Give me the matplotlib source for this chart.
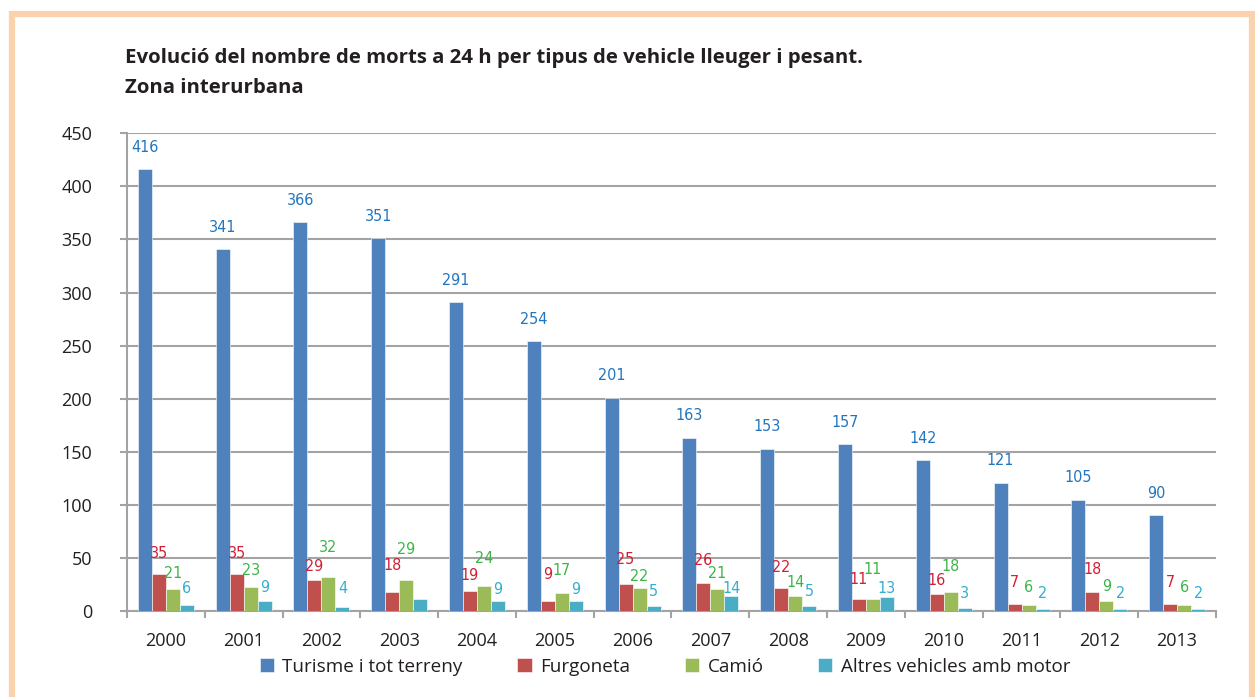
import matplotlib

matplotlib.use("Agg")
import matplotlib.pyplot as plt
from matplotlib.patches import Rectangle
import numpy as np

# ---- data -------------------------------------------------------------------
years = ["2000", "2001", "2002", "2003", "2004", "2005", "2006",
         "2007", "2008", "2009", "2010", "2011", "2012", "2013"]
turisme = [416, 341, 366, 351, 291, 254, 201, 163, 153, 157, 142, 121, 105, 90]
furgoneta = [35, 35, 29, 18, 19, 9, 25, 26, 22, 11, 16, 7, 18, 7]
camio = [21, 23, 32, 29, 24, 17, 22, 21, 14, 11, 18, 6, 9, 6]
altres = [6, 9, 4, 11, 9, 9, 5, 14, 5, 13, 3, 2, 2, 2]
altres_shown = [True, True, True, False, True, True, True,
                True, True, True, True, True, True, True]
series_names = ["Turisme i tot terreny", "Furgoneta", "Camió",
                "Altres vehicles amb motor"]

title = ("Evolució del nombre de morts a 24 h per tipus de vehicle lleuger i pesant.\n"
         "Zona interurbana")

# ---- style --------------------------------------------------------------------
BAR_COLORS = ["#4F81BD", "#C0504D", "#9BBB59", "#4BACC6"]
LABEL_COLORS = ["#2275BF", "#D21F34", "#3DB54A", "#35AECF"]
GRID = "#A3A3A3"
INK = "#231F20"
BORDER = "#FAD3AE"
TICK_FONT = ["Open Sans", "DejaVu Sans"]

# label lift above bar top, in pixels (Excel labels were nudged by hand)
lift = [
    [22] * 14,
    [20, 20, 14, 26, 15, 27, 25, 23, 20, 20, 14, 21, 22, 21],
    [15, 16, 30, 31, 27, 22, 11, 15, 14, 30, 25, 17, 15, 17],
    [16, 14, 18, 0, 12, 12, 14, 8, 14, 9, 14, 15, 15, 15],
]

W, H = 1255, 697
fig = plt.figure(figsize=(W / 100, H / 100), dpi=100)
fig.patch.set_facecolor("white")

# peach frame
fig.patches.append(Rectangle((12 / W, -0.05), (1252 - 12) / W, 1.05 - 14 / H,
                             transform=fig.transFigure, fill=False,
                             edgecolor=BORDER, linewidth=4.5, zorder=0))

ax = fig.add_axes([127 / W, 1 - 611 / H, (1216 - 127) / W, (611 - 133.3) / H])

x = np.arange(len(years))
bw = 0.18
all_series = [turisme, furgoneta, camio, altres]
shown = [[True] * 14, [True] * 14, [True] * 14, altres_shown]
handles = []
for i, vals in enumerate(all_series):
    pos = x + (i - 1.5) * bw
    b = ax.bar(pos, vals, width=bw, color=BAR_COLORS[i], edgecolor="white",
               linewidth=0.4, zorder=3, label=series_names[i])
    handles.append(b)
    for px, v, show, lf in zip(pos, vals, shown[i], lift[i]):
        if not show:
            continue
        ax.annotate(str(v), xy=(px, v), xytext=(0, lf * 0.72),
                    textcoords="offset points", ha="center", va="center",
                    fontsize=11.5, color=LABEL_COLORS[i], family="DejaVu Sans",
                    fontstretch="condensed", zorder=4)

ax.set_xlim(-0.5, len(years) - 0.5)
ax.set_ylim(0, 450)
ax.set_yticks(np.arange(0, 451, 50))
ax.yaxis.grid(True, color=GRID, linewidth=1.5, zorder=0)
ax.set_axisbelow(True)

ax.set_xticks(x)
ax.set_xticklabels(years)
ax.set_xticks(np.arange(-0.5, len(years), 1), minor=True)
ax.tick_params(axis="x", which="major", length=0, pad=15, labelsize=13,
               labelcolor=INK)
ax.tick_params(axis="x", which="minor", length=5, width=1.5, color=GRID,
               direction="out")
ax.tick_params(axis="y", length=5, width=1.5, color=GRID, pad=20,
               labelsize=13, labelcolor=INK)
for lab in ax.get_xticklabels() + ax.get_yticklabels():
    lab.set_family(TICK_FONT)

for side in ("top", "right"):
    ax.spines[side].set_visible(False)
for side in ("left", "bottom"):
    ax.spines[side].set_color(GRID)
    ax.spines[side].set_linewidth(1.5)

fig.text(125 / W, 1 - 73 / H, title, ha="left", va="center", fontsize=14.7,
         fontweight="bold", color=INK, family=TICK_FONT, linespacing=1.65)

leg = fig.legend(handles=handles, loc="center", bbox_to_anchor=(665 / W, 1 - 667 / H),
                 ncol=4, frameon=False, handlelength=0.75, handleheight=0.75,
                 handletextpad=0.45, columnspacing=2.9,
                 prop={"family": TICK_FONT, "size": 13.6})
for t in leg.get_texts():
    t.set_color(INK)

fig.savefig("out.png", dpi=100, facecolor="white")
